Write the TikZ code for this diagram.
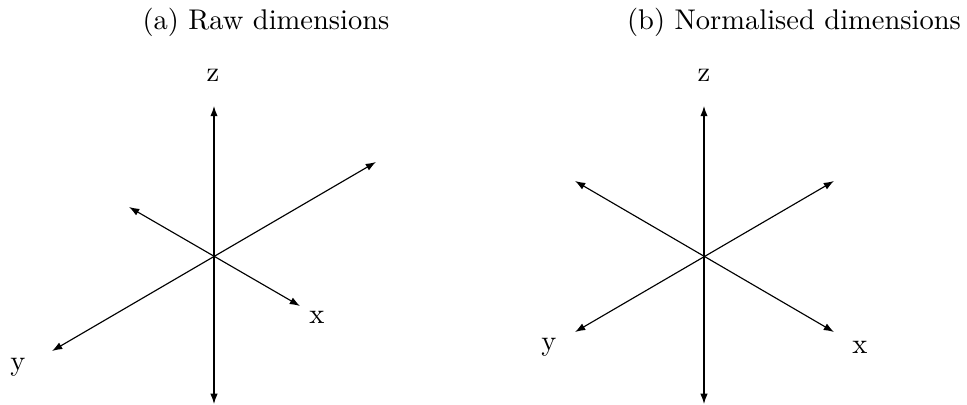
\documentclass[tikz,border=0pt]{standalone}
\usetikzlibrary{arrows.meta}
\begin{document}
\begin{tikzpicture}[x=0.351pt,y=-0.351pt,
  axis/.style={{Latex[length=3.6pt,width=2.6pt]}-{Latex[length=3.6pt,width=2.6pt]}, line width=0.4pt},
  lbl/.style={inner sep=0pt, font=\fontsize{10}{12}\selectfont},
  ttl/.style={inner sep=0pt, font=\fontsize{10}{12}\selectfont}]
\useasboundingbox (0,0) rectangle (967,405);
% left
\node[ttl] (ta) at (266,22) {(a) Raw dimensions};
\coordinate (ca) at (214,257);
\coordinate (azt) at (214,106);
\coordinate (azb) at (214,404);
\coordinate (aur) at (376,162);
\coordinate (all) at (52,351);
\coordinate (aul) at (129,207);
\coordinate (alr) at (300,306);
\draw[axis] (azb) -- (azt);
\draw[axis] (all) -- (aur);
\draw[axis] (aul) -- (alr);
\node[lbl] (az) at (213,75) {z};
\node[lbl] (ax) at (317,317) {x};
\node[lbl] (ay) at (18,367) {y};
% right
\node[ttl] (tb) at (794,22) {(b) Normalised dimensions};
\coordinate (cb) at (704,257);
\coordinate (bzt) at (704,106);
\coordinate (bzb) at (704,404);
\coordinate (bur) at (834,181);
\coordinate (bll) at (575,332);
\coordinate (bul) at (575,181);
\coordinate (blr) at (834,332);
\draw[axis] (bzb) -- (bzt);
\draw[axis] (bll) -- (bur);
\draw[axis] (bul) -- (blr);
\node[lbl] (bz) at (704,75) {z};
\node[lbl] (bx) at (860,347) {x};
\node[lbl] (by) at (549,347) {y};
\end{tikzpicture}
\end{document}
